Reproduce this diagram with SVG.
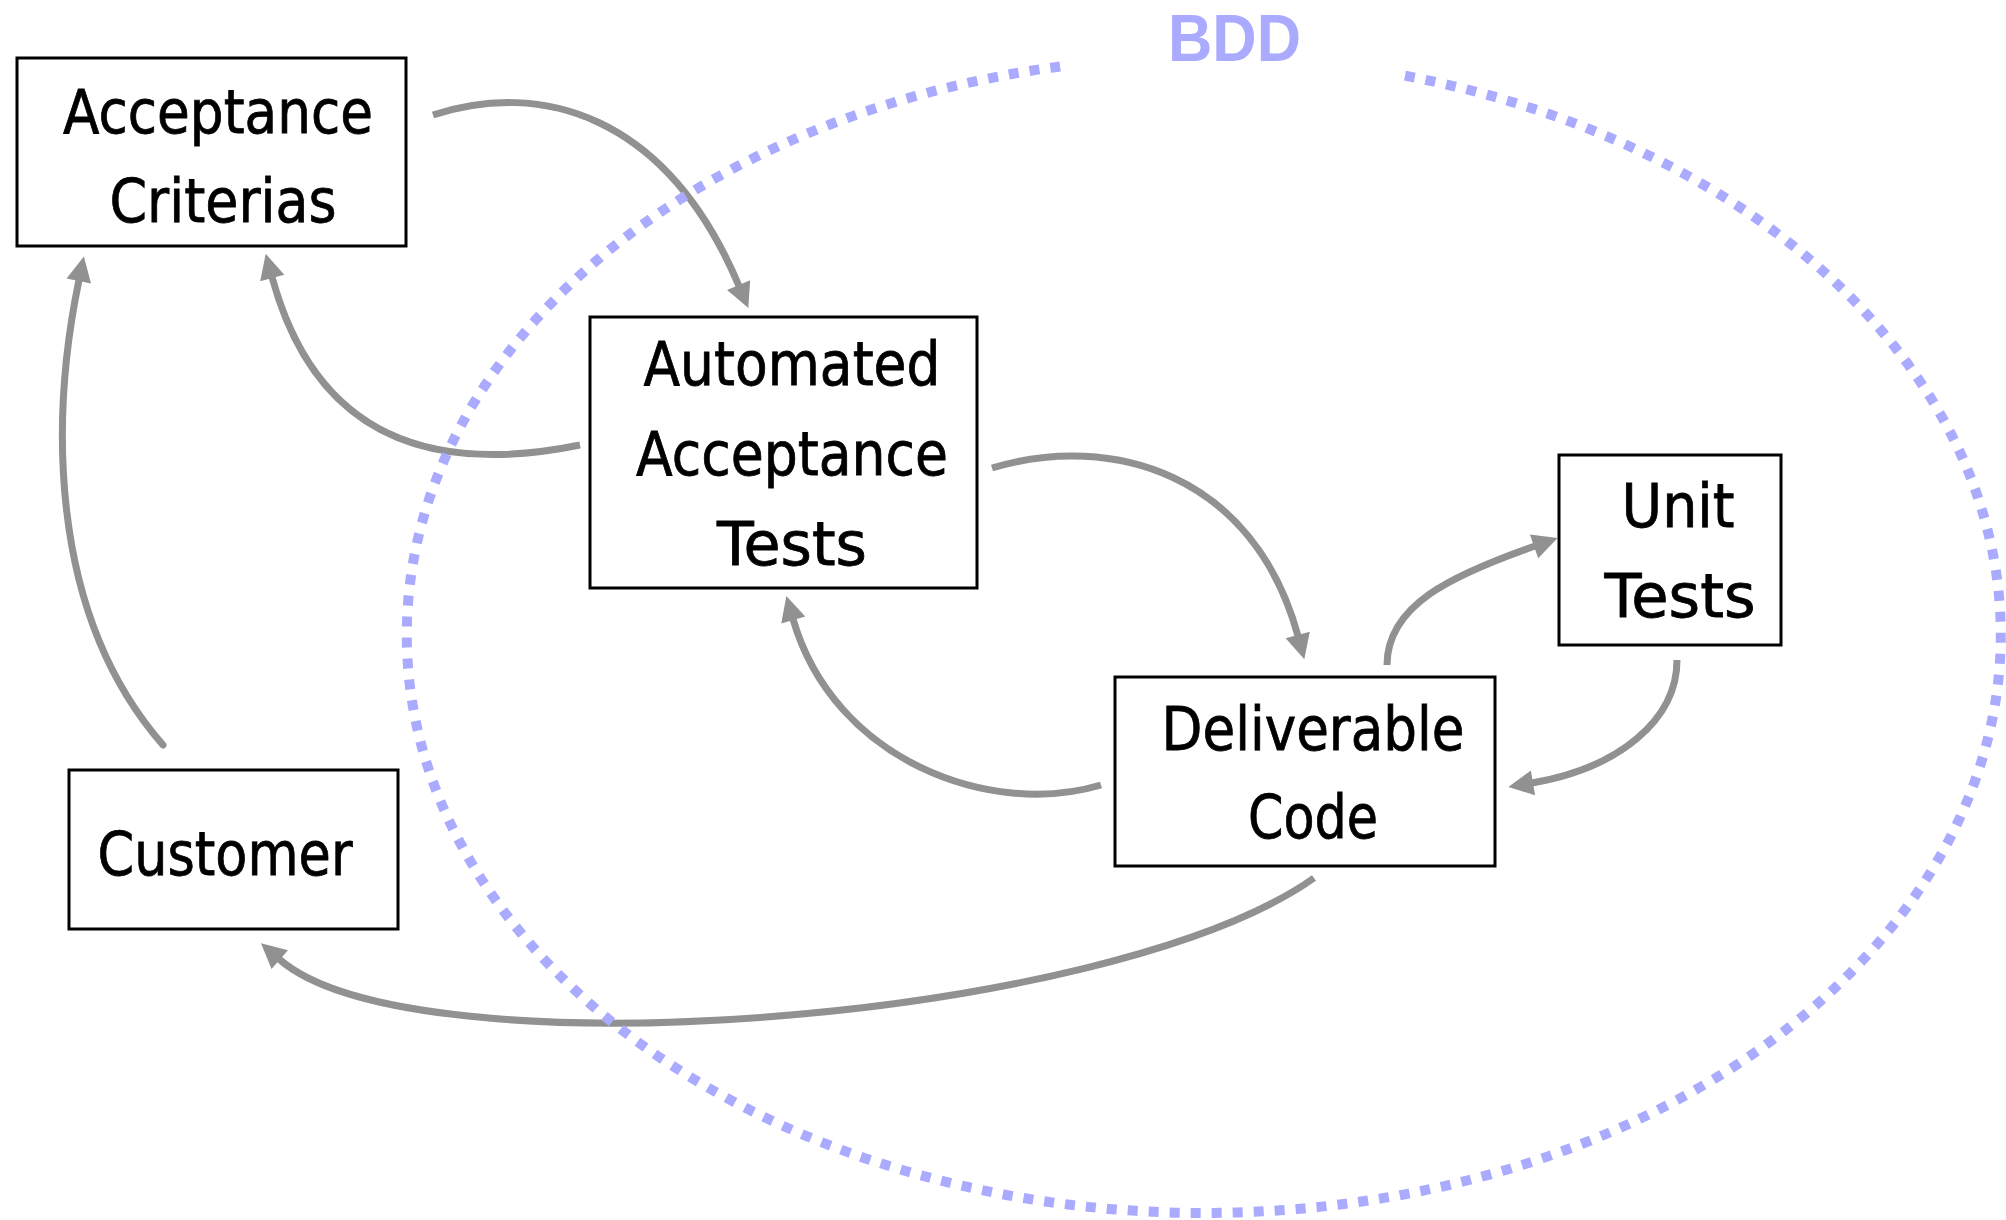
<svg xmlns="http://www.w3.org/2000/svg" width="2006" height="1220" viewBox="0 0 2006 1220">
  <style>
    .box { fill: #ffffff; stroke: #000000; stroke-width: 3; }
    .lbl { font-family: 'DejaVu Sans', sans-serif; font-size: 60px; fill: #000000; stroke: #000000; stroke-width: 0.8; text-anchor: middle; }
    .conn { fill: none; stroke: #919191; stroke-width: 7; marker-end: url(#arrow); }
    .bdd { fill: none; stroke: #aaaaff; stroke-width: 10; stroke-dasharray: 10 11; }
    .bddtxt { font-family: 'Liberation Sans', Arial, sans-serif; font-weight: bold; font-size: 67px; fill: #aaaaff; }
  </style>
  <defs>
    <marker id="arrow" markerUnits="userSpaceOnUse" markerWidth="27" markerHeight="27" refX="1" refY="12.5" orient="auto" overflow="visible">
      <path d="M0,0 L25,12.5 L0,25 z" fill="#919191"/>
    </marker>
  </defs>
  <rect width="2006" height="1220" fill="#ffffff"/>

  <g id="connectors">
    <path class="conn" d="M433,115 C540,80 666,113 739,286"/>
    <path class="conn" d="M580,445 C433,475 316,439 272,277"/>
    <path class="conn" style="stroke-linecap:round" d="M163,745 C45,610 52,410 79,280"/>
    <path class="conn" d="M992,468 C1112,432 1254,474 1298,636"/>
    <path class="conn" d="M1101,785 C991,818 834,761 793,619"/>
    <path class="conn" d="M1387,665 C1387,605 1452,575 1535,546"/>
    <path class="conn" d="M1677,660 C1677,720 1619,768 1532,783"/>
    <path class="conn" d="M1314,878 C1109,1023 412,1076 279,959"/>
  </g>

  <g id="bdd-boundary">
    <path class="bdd" d="M1405,75.7 A797,578 0 1 1 1062,66.2"/>
    <text class="bddtxt" x="1168" y="61" textLength="133" lengthAdjust="spacingAndGlyphs">BDD</text>
  </g>

  <g id="acceptance-criterias">
    <rect class="box" x="17" y="58" width="389" height="188"/>
    <text class="lbl" x="218" y="133" textLength="310" lengthAdjust="spacingAndGlyphs">Acceptance</text>
    <text class="lbl" x="223" y="222" textLength="227" lengthAdjust="spacingAndGlyphs">Criterias</text>
  </g>

  <g id="automated-acceptance-tests">
    <rect class="box" x="590" y="317" width="387" height="271"/>
    <text class="lbl" x="792" y="385" textLength="297" lengthAdjust="spacingAndGlyphs">Automated</text>
    <text class="lbl" x="792" y="475" textLength="312" lengthAdjust="spacingAndGlyphs">Acceptance</text>
    <text class="lbl" x="792" y="565" textLength="150" lengthAdjust="spacingAndGlyphs">Tests</text>
  </g>

  <g id="unit-tests">
    <rect class="box" x="1559" y="455" width="222" height="190"/>
    <text class="lbl" x="1678" y="527" textLength="113" lengthAdjust="spacingAndGlyphs">Unit</text>
    <text class="lbl" x="1680" y="617" textLength="151" lengthAdjust="spacingAndGlyphs">Tests</text>
  </g>

  <g id="deliverable-code">
    <rect class="box" x="1115" y="677" width="380" height="189"/>
    <text class="lbl" x="1313" y="750" textLength="303" lengthAdjust="spacingAndGlyphs">Deliverable</text>
    <text class="lbl" x="1313" y="838" textLength="130" lengthAdjust="spacingAndGlyphs">Code</text>
  </g>

  <g id="customer">
    <rect class="box" x="69" y="770" width="329" height="159"/>
    <text class="lbl" x="225" y="875" textLength="255" lengthAdjust="spacingAndGlyphs">Customer</text>
  </g>
</svg>
